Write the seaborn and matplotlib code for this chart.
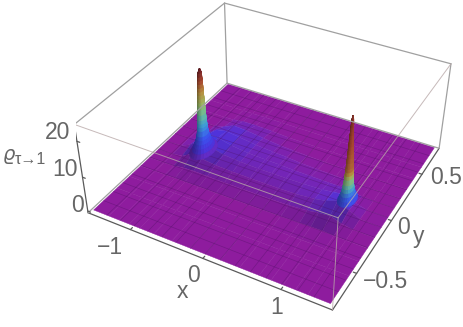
"""Purple plane with two narrow rainbow peaks, as a perspective 3D box."""
import numpy as np
import matplotlib
matplotlib.use("Agg")
import matplotlib.pyplot as plt
import seaborn as sns

# plane heights, rows follow plane_x, columns plane_y
plane_x = [-1.571, -1.35, -1.2, -1.05, -0.9, -0.7, -0.45, -0.2, 0, 0.2, 0.45, 0.7, 0.85, 1.0, 1.15, 1.3, 1.571]
plane_y = [-0.785, -0.55, -0.42, -0.3, -0.2, -0.1, 0, 0.1, 0.2, 0.3, 0.42, 0.55, 0.785]
plane_z = [
    [0, 0, 0, 0, 0, 0, 0, 0, 0, 0, 0, 0, 0],
    [0, 0, 0, 0, 0, .1, .2, .1, 0, 0, 0, 0, 0],
    [0, 0, 0, .05, .1, .6, 1.5, 1.0, .3, .05, 0, 0, 0],
    [0, 0, .02, .1, .6, 2.2, 4, 3.4, 2.2, .8, .1, 0, 0],
    [0, 0, .02, .1, .7, 1.8, 3.0, 3.2, 2.8, 2.1, .5, 0, 0],
    [0, 0, .02, .1, .6, 1.3, 1.9, 2.2, 2.3, 1.8, .6, .05, 0],
    [0, 0, .02, .1, .5, 1.1, 1.5, 1.6, 1.6, 1.2, .4, .02, 0],
    [0, 0, .02, .1, .5, 1.0, 1.3, 1.4, 1.2, .6, .1, 0, 0],
    [0, 0, .02, .1, .5, 1.0, 1.3, 1.3, 1.0, .4, .05, 0, 0],
    [0, 0, .02, .1, .5, 1.0, 1.3, 1.1, .6, .2, 0, 0, 0],
    [0, 0, .03, .15, .6, 1.1, 1.4, 1.0, .4, .05, 0, 0, 0],
    [0, 0, .05, .2, 1.0, 1.6, 1.6, .9, .25, 0, 0, 0, 0],
    [0, 0, .05, .3, 1.5, 2.2, 2.0, .9, .15, 0, 0, 0, 0],
    [0, 0, .05, .3, 1.8, 3.4, 2.4, .6, .05, 0, 0, 0, 0],
    [0, 0, .02, .1, .7, 1.7, 1.0, .1, 0, 0, 0, 0, 0],
    [0, 0, 0, .02, .1, .3, .1, 0, 0, 0, 0, 0, 0],
    [0, 0, 0, 0, 0, 0, 0, 0, 0, 0, 0, 0, 0],
]

peak_levels = [1.5, 2.5, 3.5, 4.5, 5.5, 6.5, 8, 9, 10, 11, 12.5, 14, 15, 16, 17, 18, 19, 20, 21, 22, 23, 24, 24.7, 25]
left_center = (-1.0, 0.0)
left_widths = [.15, .12, .1, .085, .07, .062, .054, .05, .047, .044, .041, .038, .036, .034, .032, .03, .029, .027, .025, .023, .021, .017, .01, .003]
right_center = (1.04, 0.0)
right_widths = [.11, .09, .075, .065, .058, .052, .046, .043, .04, .037, .034, .031, .029, .027, .025, .023, .021, .019, .017, .015, .013, .01, .006, .002]
right_tones = [5, 6, 7, 9, 11, 13, 15, 18, 20, 20.5, 21, 21, 21.5, 21.5, 22, 22, 22, 22.5, 22.5, 23, 23, 23, 23, 23]

x_ticks = [-1, 0, 1]
y_ticks = [-0.5, 0, 0.5]
z_ticks = [0, 10, 20]

BOX_X = (-1.62, 1.62)
BOX_Y = (-0.81, 0.81)
BOX_Z = (-0.5, 24.5)

sns.set_theme(style="white")
plt.rcParams['font.family'] = ['Liberation Sans', 'DejaVu Sans']

rainbow = sns.blend_palette(
    ["#8e1c9e", "#4a35e0", "#3a5af0", "#3fa0d8", "#6dbf9a",
     "#a0b860", "#b89040", "#a84830", "#702028"],
    n_colors=256, as_cmap=True)


def tone(z):
    return rainbow(np.clip(np.asarray(z, float) / 25.0, 0, 1))


def draw_peak(ax, center, levels, widths, tones):
    theta = np.linspace(0, 2 * np.pi, 25)
    lv, th = np.meshgrid(levels, theta, indexing='ij')
    wd = np.array(widths)[:, None]
    px = center[0] + wd * np.cos(th)
    py = center[1] + 0.8 * wd * np.sin(th)
    t = np.array(tones, float)
    cell = np.repeat(((t[:-1] + t[1:]) / 2)[:, None], len(theta) - 1, axis=1)
    colors = tone(cell)
    # front left side of each peak sits in shadow
    mid = (theta[:-1] + theta[1:]) / 2
    colors[..., :3] *= (1 - 0.35 * np.clip(np.cos(mid - np.radians(225)), 0, 1))[None, :, None]
    ax.plot_surface(px, py, lv, facecolors=colors, shade=False,
                    rstride=1, cstride=1, linewidth=0.3, zorder=3)


fig = plt.figure(figsize=(4.63, 3.27), dpi=100)
ax = fig.add_axes([75.9 / 463, -6.2 / 327, 381.4 / 463, 381.4 / 327], projection='3d')
ax.computed_zorder = False
ax.patch.set_alpha(0)
ax.set_xlim(*BOX_X, view_margin=0)
ax.set_ylim(*BOX_Y, view_margin=0)
ax.set_zlim(*BOX_Z, view_margin=0)
ax.set_box_aspect((1, 1, 0.4017))
ax.view_init(36.48, -61.48, -0.18)
ax.set_proj_type('persp', focal_length=0.441)
ax.set_axis_off()

# plane, slopes that face the viewer get darker
gx, gy = np.meshgrid(plane_x, plane_y, indexing='ij')
gz = np.array(plane_z, float)
cells = (gz[:-1, :-1] + gz[1:, :-1] + gz[:-1, 1:] + gz[1:, 1:]) / 4
slope = (gz[:-1, 1:] + gz[1:, 1:] - gz[:-1, :-1] - gz[1:, :-1]) / 2 / np.diff(plane_y)[None, :]
plane_colors = tone(cells)
plane_colors[..., :3] *= (1 - np.clip(0.015 * slope, 0, 0.5))[..., None]
ax.plot_surface(gx, gy, gz, facecolors=plane_colors, shade=False,
                rstride=1, cstride=1, linewidth=0.3, zorder=1)

# mesh lines, 15 each way, lying on the plane
for mx in np.linspace(plane_x[0], plane_x[-1], 17)[1:-1]:
    ax.plot([mx, mx], [plane_y[0], plane_y[-1]], [0.02, 0.02], color="#4a1060", alpha=0.38, lw=0.5, zorder=2)
for my in np.linspace(plane_y[0], plane_y[-1], 17)[1:-1]:
    ax.plot([plane_x[0], plane_x[-1]], [my, my], [0.02, 0.02], color="#4a1060", alpha=0.38, lw=0.5, zorder=2)

draw_peak(ax, left_center, peak_levels, left_widths, peak_levels)
draw_peak(ax, right_center, peak_levels, right_widths, right_tones)

# box edges
x0, x1 = BOX_X
y0, y1 = BOX_Y
z0, z1 = BOX_Z
soft = dict(color="#a0a0a0", lw=0.9, zorder=4)
dark = dict(color="#5a5a5a", lw=0.9, zorder=4)
over = dict(color="#b8a8a8", lw=0.7, alpha=0.8, zorder=4)
ax.plot([x0, x1], [y0, y0], [z0, z0], **dark)
ax.plot([x1, x1], [y0, y1], [z0, z0], **dark)
ax.plot([x0, x0], [y0, y0], [z0, z1], **dark)
ax.plot([x0, x0], [y0, y1], [z0, z0], **soft)
ax.plot([x0, x1], [y1, y1], [z0, z0], **soft)
ax.plot([x0, x0], [y1, y1], [z0, z1], **soft)
ax.plot([x1, x1], [y1, y1], [z0, z1], **soft)
ax.plot([x0, x0], [y0, y1], [z1, z1], **soft)
ax.plot([x0, x1], [y1, y1], [z1, z1], **soft)
ax.plot([x1, x1], [y0, y1], [z1, z1], **over)
ax.plot([x0, x1], [y0, y0], [z1, z1], **over)
ax.plot([x1, x1], [y0, y0], [z0, z1], **over)

# tick marks on the three labelled edges
for t in x_ticks:
    ax.plot([t, t], [y0, y0 + 0.02], [z0, z0], **dark)
for t in y_ticks:
    ax.plot([x1 - 0.04, x1], [t, t], [z0, z0], **dark)
for t in z_ticks:
    ax.plot([x0, x0 + 0.04], [y0, y0], [t, t], **dark)

# labels sit just off the box
GREY = "#666666"


def label(px, py, s, size=16.5):
    fig.text(px / 463, 1 - py / 327, s, color=GREY, fontsize=size, ha='center', va='center')


label(58, 133, "20")
label(65, 170, "10")
label(77, 205, "0")
label(110, 247, "\u22121")
label(194, 276, "0")
label(277, 308, "1")
label(385, 282, "\u22120.5")
label(404, 228, "0")
label(446, 178, "0.5")
label(182, 292, "x")
label(419, 236, "y")
label(9, 156, r"$\varrho$", 14)
label(30.5, 160, "\u03c4\u21921", 11.5)

fig.savefig("out.png", dpi=100)
